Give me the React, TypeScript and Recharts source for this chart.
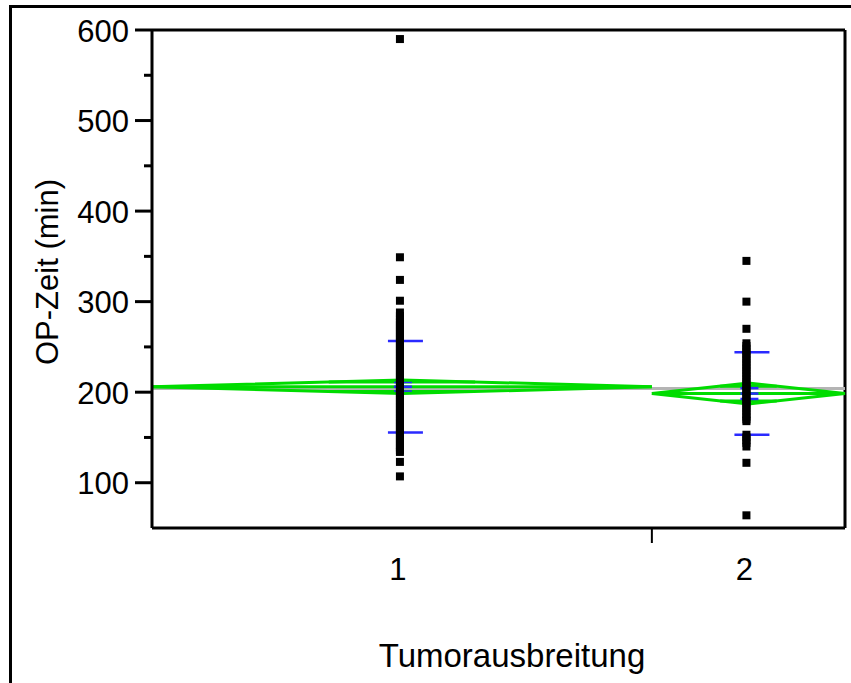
import { ComposedChart, Line, Scatter, XAxis, YAxis, ReferenceLine, Label } from 'recharts';

// groups on the x axis, widths proportional to group size
const categories = ['1', '2'];
const groupSizes = [88, 34];
const groupMeans = [206, 198.5];
const diamondHalf = [7.5, 11.5];
const groupSD = [50.5, 45.5];
const groupSE = [5.3, 6];
const grandMean = 204;

const group1Times = [
  590, 349, 324, 301, 288, 284, 280, 277, 274, 271, 268, 265, 262, 259, 256, 253, 250, 247, 244, 241,
  238, 235, 232, 229, 226, 223, 220, 217, 214, 211, 208, 205, 202, 199, 196, 193, 190, 187, 184, 181,
  178, 175, 172, 169, 166, 163, 160, 157, 154, 151, 148, 145, 142, 139, 136, 134, 123, 107,
];
const group2Times = [
  345, 300, 270, 254, 251, 248, 245, 242, 239, 236, 233, 230, 227, 224, 221, 218, 215, 212, 209, 206,
  203, 200, 197, 194, 191, 188, 185, 182, 179, 176, 173, 170, 168, 153, 150, 147, 144, 140, 122, 64,
];

const yTicks = [100, 150, 200, 250, 300, 350, 400, 450, 500, 550, 600];

const FONT = '"Liberation Sans", Arial, sans-serif';
const GREEN = '#00dc00';
const BLUE = '#2a2aff';

const total = groupSizes[0] + groupSizes[1];
const starts = [0, groupSizes[0]];
const centers = starts.map((s, i) => s + groupSizes[i] / 2);
const xTicks = [centers[0], starts[1], centers[1]];

// pixel -> data unit on x (plot is 693px wide)
const px = total / 693;

const diamonds = groupMeans.map((m, i) => [
  { x: starts[i], y: m },
  { x: centers[i], y: m + diamondHalf[i] },
  { x: starts[i] + groupSizes[i], y: m },
  { x: centers[i], y: m - diamondHalf[i] },
  { x: starts[i], y: m },
]);

const pointSets = [group1Times, group2Times].map((arr, i) =>
  arr.map((t) => ({ x: centers[i], y: t }))
);

const seg = (x1: number, x2: number, y: number) => [
  { x: x1, y },
  { x: x2, y },
];

const YTick = (props: any) => {
  const { x, y, payload } = props;
  const major = payload.value % 100 === 0;
  return (
    <g>
      <line x1={x - (major ? 17 : 8)} x2={x} y1={y} y2={y} stroke="#000" strokeWidth={3} />
      {major && (
        <text x={x - 23} y={y + 1} textAnchor="end" dominantBaseline="central" fontSize={31} fontFamily={FONT} fill="#000">
          {payload.value}
        </text>
      )}
    </g>
  );
};

const XTick = (props: any) => {
  const { x, y, payload } = props;
  if (payload.value === starts[1]) {
    return <line x1={x} x2={x} y1={y} y2={y + 15} stroke="#000" strokeWidth={2} />;
  }
  const idx = centers.indexOf(payload.value);
  return (
    <text x={x - 4} y={y + 41} textAnchor="middle" dominantBaseline="central" fontSize={31} fontFamily={FONT} fill="#000">
      {categories[idx]}
    </text>
  );
};

const Square = (props: any) => (
  <rect x={props.cx - 6} y={props.cy - 4} width={8} height={8} fill="#000" />
);

export default function App() {
  return (
    <div style={{ position: 'absolute', left: 0, top: 0, width: 851, height: 683, background: '#fff' }}>
      <div
        style={{
          position: 'absolute', left: 9, top: 5, right: 0, bottom: 0,
          borderLeft: '3px solid #000', borderTop: '3px solid #000',
        }}
      />
      <ComposedChart width={851} height={683} margin={{ top: 30, right: 6, bottom: 95, left: 32 }} style={{ position: 'absolute', left: 0, top: 0 }}>
        <XAxis
          type="number"
          dataKey="x"
          domain={[0, total]}
          ticks={xTicks}
          interval={0}
          tickSize={0}
          tickMargin={0}
          height={60}
          axisLine={{ stroke: '#000', strokeWidth: 3 }}
          tick={<XTick />}
        >
          <Label
            content={() => (
              <text x={512} y={655} textAnchor="middle" dominantBaseline="central" fontSize={33} fontFamily={FONT} fill="#000">
                Tumorausbreitung
              </text>
            )}
          />
        </XAxis>
        <YAxis
          type="number"
          dataKey="y"
          domain={[50, 600]}
          ticks={yTicks}
          interval={0}
          width={120}
          tickSize={0}
          tickMargin={0}
          axisLine={{ stroke: '#000', strokeWidth: 3 }}
          tick={<YTick />}
        >
          <Label
            content={() => (
              <text x={47} y={272} transform="rotate(-90 47 272)" textAnchor="middle" dominantBaseline="central" fontSize={31} fontFamily={FONT} fill="#000">
                OP-Zeit (min)
              </text>
            )}
          />
        </YAxis>

        <ReferenceLine y={600} stroke="#000" strokeWidth={3} />
        <ReferenceLine x={total} stroke="#000" strokeWidth={3} />
        <ReferenceLine y={grandMean} stroke="#b4b4b4" strokeWidth={3} />

        {groupMeans.map((m, i) => {
          const w = ((1 - Math.SQRT1_2) * groupSizes[i]) / 2;
          const o = diamondHalf[i] * Math.SQRT1_2;
          return [
            <ReferenceLine key={`mean${i}`} segment={seg(starts[i], starts[i] + groupSizes[i], m)} stroke={GREEN} strokeWidth={3} />,
            <ReferenceLine key={`ovu${i}`} segment={seg(centers[i] - w, centers[i] + w, m + o)} stroke={GREEN} strokeWidth={3} />,
            <ReferenceLine key={`ovl${i}`} segment={seg(centers[i] - w, centers[i] + w, m - o)} stroke={GREEN} strokeWidth={3} />,
            <ReferenceLine key={`sdu${i}`} segment={seg(centers[i] - 14 * px, centers[i] + 21 * px, m + groupSD[i])} stroke={BLUE} strokeWidth={2.5} />,
            <ReferenceLine key={`sdl${i}`} segment={seg(centers[i] - 14 * px, centers[i] + 21 * px, m - groupSD[i])} stroke={BLUE} strokeWidth={2.5} />,
            <ReferenceLine key={`seu${i}`} segment={seg(centers[i] - 8 * px, centers[i] + 10 * px, m + groupSE[i])} stroke={BLUE} strokeWidth={2.5} />,
            <ReferenceLine key={`sem${i}`} segment={seg(centers[i] - 8 * px, centers[i] + 10 * px, m)} stroke={BLUE} strokeWidth={2.5} />,
            <ReferenceLine key={`sel${i}`} segment={seg(centers[i] - 8 * px, centers[i] + 10 * px, m - groupSE[i])} stroke={BLUE} strokeWidth={2.5} />,
          ];
        })}

        {diamonds.map((d, i) => (
          <Line key={`dia${i}`} data={d} dataKey="y" type="linear" stroke={GREEN} strokeWidth={3} dot={false} activeDot={false} isAnimationActive={false} />
        ))}

        {pointSets.map((p, i) => (
          <Scatter key={`pts${i}`} data={p} dataKey="y" shape={<Square />} isAnimationActive={false} />
        ))}
      </ComposedChart>
    </div>
  );
}
